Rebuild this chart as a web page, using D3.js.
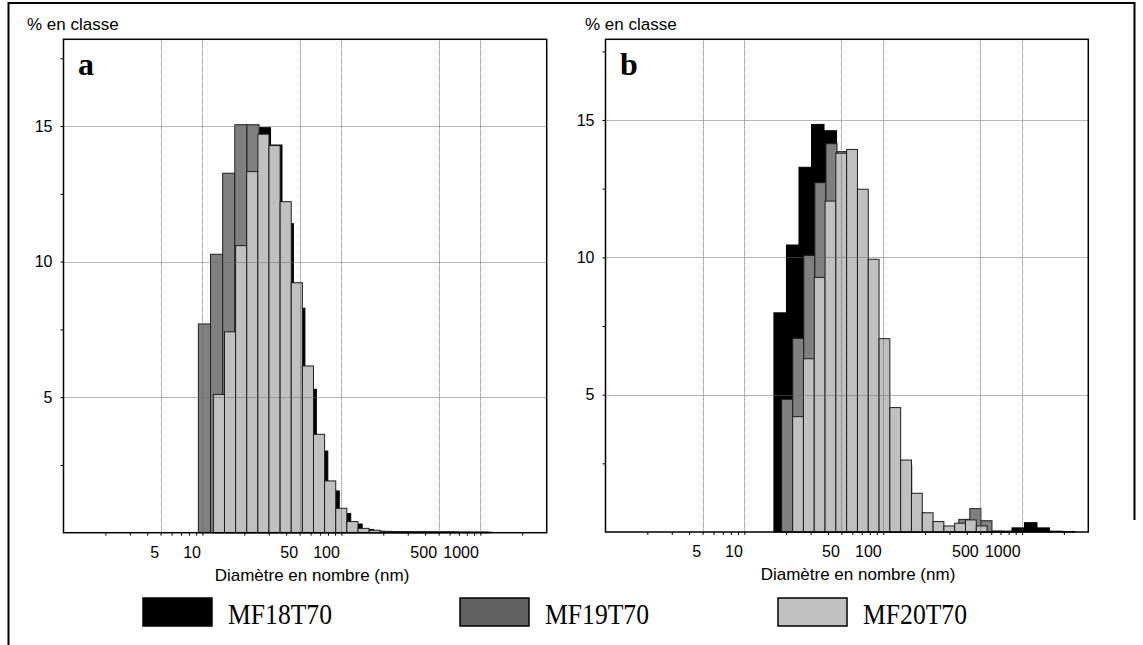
<!DOCTYPE html>
<html>
<head>
<meta charset="utf-8">
<script src="https://cdn.jsdelivr.net/npm/d3@7"></script>
<style>
  html, body { margin: 0; padding: 0; background: #fff; }
  svg { display: block; }
</style>
</head>
<body>
<svg id="chart" width="1143" height="645"></svg>
<script>
// ---------------- DATA ----------------
const seriesNames = ["MF18T70", "MF19T70", "MF20T70"];
const xTickValues = [5, 10, 50, 100, 500, 1000];
const yTickValues = [5, 10, 15];
const panelLetters = ["a", "b"];
const yAxisTitle = "% en classe";
const xAxisTitle = "Diamètre en nombre (nm)";

// Panel a : size classes (lower edge of first class in nm, class ratio) and % per class
const aMF18Start = 11.96, aMF18Ratio = 1.2090;
const aMF18 = [4.0, 6.5, 10.0, 13.0, 14.94, 14.3, 11.4, 8.28, 5.29, 3.01, 1.54, 0.71, 0.32, 0.12,
               0.05, 0.04, 0.04, 0.03, 0.03, 0.03, 0.03, 0.02, 0.02, 0.02];
const aMF19Start = 9.344, aMF19Ratio = 1.2229;
const aMF19 = [7.70, 10.27, 13.26, 15.05, 15.05, 13.5, 11.5, 8.5, 5.5, 3.2, 1.6, 0.75, 0.3, 0.12,
               0.05, 0.03, 0.02, 0.02, 0.02, 0.01];
const aMF20Start = 11.98, aMF20Ratio = 1.2024;
const aMF20 = [5.10, 7.41, 10.59, 13.32, 14.70, 14.28, 12.21, 9.22, 6.15, 3.63, 1.91, 0.90, 0.41,
               0.16, 0.09, 0.05, 0.04, 0.04, 0.03, 0.03, 0.03, 0.03, 0.02, 0.02, 0.02];

// Panel b
const bMF18Start = 16.33, bMF18Ratio = 1.2309;
const bMF18 = [7.98, 10.45, 13.28, 14.84, 14.61, 13.5, 11.5, 9.0, 6.5, 4.2, 2.4, 0.7, 0.3, 0.15,
               0.08, 0.05, 0.04, 0.03, 0.03, 0.15, 0.34, 0.15, 0.03, 0.02];
const bMF19Start = 18.56, bMF19Ratio = 1.2015;
const bMF19 = [4.83, 7.05, 10.07, 12.72, 14.14, 13.85, 12.0, 9.5, 6.8, 4.4, 2.5, 1.3, 0.65, 0.35,
               0.2, 0.2, 0.46, 0.85, 0.41, 0.03, 0.02];
const bMF20Start = 22.27, bMF20Ratio = 1.1962;
const bMF20 = [4.20, 6.31, 9.27, 12.05, 13.79, 13.93, 12.48, 9.93, 7.04, 4.53, 2.62, 1.41, 0.70,
               0.38, 0.22, 0.32, 0.44, 0.22];

const xDomain = [1, 3000];
const aYMax = 18.2, bYMax = 17.94;

// ---------------- STYLE / LAYOUT ----------------
const fills = ["#000000", "#808080", "#c0c0c0"];
const legendFills = ["#000000", "#606060", "#c0c0c0"];
const sans = "'Liberation Sans', Arial, sans-serif";
const serif = "'Liberation Serif', 'Times New Roman', serif";

const svg = d3.select("#chart");

// outer frame
svg.append("path")
  .attr("d", "M8.5,645 L8.5,3 L1134.5,3 L1134.5,520")
  .attr("fill", "none").attr("stroke", "#000").attr("stroke-width", 2);

const panels = [
  { left: 63.5, right: 546.7, top: 39.3, bottom: 532.7, ymax: aYMax, letter: panelLetters[0],
    titleX: 312, yTitleX: 27,
    series: [
      { start: aMF18Start, ratio: aMF18Ratio, values: aMF18 },
      { start: aMF19Start, ratio: aMF19Ratio, values: aMF19 },
      { start: aMF20Start, ratio: aMF20Ratio, values: aMF20 } ] },
  { left: 605.5, right: 1088.3, top: 39.3, bottom: 532, ymax: bYMax, letter: panelLetters[1],
    titleX: 858, yTitleX: 585,
    series: [
      { start: bMF18Start, ratio: bMF18Ratio, values: bMF18 },
      { start: bMF19Start, ratio: bMF19Ratio, values: bMF19 },
      { start: bMF20Start, ratio: bMF20Ratio, values: bMF20 } ] }
];

// minor ticks: every integer multiple in each decade
const minorTicks = [];
for (let dec = 1; dec <= 1000; dec *= 10) {
  for (let m = 1; m <= 9; m++) {
    const v = dec * m;
    if (v > 1 && v < 3000) minorTicks.push(v);
  }
}

panels.forEach(p => {
  const x = d3.scaleLog().domain(xDomain).range([p.left, p.right]);
  const y = d3.scaleLinear().domain([0, p.ymax]).range([p.bottom, p.top]);
  const g = svg.append("g");

  // bars: back-to-front MF18, MF19, MF20
  p.series.forEach((s, si) => {
    const bins = s.values.map((v, i) => ({
      lo: s.start * Math.pow(s.ratio, i),
      hi: s.start * Math.pow(s.ratio, i + 1),
      v: v
    }));
    g.append("g").selectAll("rect").data(bins).join("rect")
      .attr("x", d => x(d.lo))
      .attr("width", d => x(d.hi) - x(d.lo))
      .attr("y", d => y(d.v))
      .attr("height", d => y(0) - y(d.v))
      .attr("fill", fills[si])
      .attr("stroke", si === 0 ? "#000" : "#1e1e1e")
      .attr("stroke-width", 1);
  });

  // grid lines (drawn over the bars)
  g.append("g").selectAll("line.vg").data(xTickValues).join("line")
    .attr("x1", d => Math.round(x(d)) + 0.5).attr("x2", d => Math.round(x(d)) + 0.5)
    .attr("y1", p.top).attr("y2", p.bottom)
    .attr("stroke", "#6a6a6a").attr("stroke-width", 1).attr("stroke-dasharray", "1,1");
  g.append("g").selectAll("line.hg").data(yTickValues).join("line")
    .attr("y1", d => Math.round(y(d)) + 0.5).attr("y2", d => Math.round(y(d)) + 0.5)
    .attr("x1", p.left).attr("x2", p.right)
    .attr("stroke", "#6a6a6a").attr("stroke-width", 1).attr("stroke-dasharray", "1,1");

  // x axis (bottom) using d3 axis for minor ticks
  const xAxis = d3.axisBottom(x).tickValues(minorTicks).tickSize(3).tickFormat("");
  const xa = g.append("g").attr("transform", `translate(0,${p.bottom})`).call(xAxis);
  xa.select(".domain").remove();
  xa.selectAll("line").attr("stroke", "#000");

  // x tick labels (right-aligned just left of tick)
  g.append("g").selectAll("text").data(xTickValues).join("text")
    .attr("x", d => x(d) - 1.5)
    .attr("y", p.bottom + 25)
    .attr("text-anchor", "end")
    .attr("font-family", sans).attr("font-size", 16)
    .text(d => d);

  // y axis ticks every 2.5
  const yAxis = d3.axisLeft(y).tickValues(d3.range(2.5, p.ymax, 2.5)).tickSize(3).tickFormat("");
  const ya = g.append("g").attr("transform", `translate(${p.left},0)`).call(yAxis);
  ya.select(".domain").remove();
  ya.selectAll("line").attr("stroke", "#000");

  g.append("g").selectAll("text").data(yTickValues).join("text")
    .attr("x", p.left - 11)
    .attr("y", d => y(d) + 5.5)
    .attr("text-anchor", "end")
    .attr("font-family", sans).attr("font-size", 16)
    .text(d => d);

  // plot frame
  g.append("rect")
    .attr("x", p.left).attr("y", p.top)
    .attr("width", p.right - p.left).attr("height", p.bottom - p.top)
    .attr("fill", "none").attr("stroke", "#000").attr("stroke-width", 1.5);

  // titles
  g.append("text").attr("x", p.yTitleX).attr("y", 30)
    .attr("font-family", sans).attr("font-size", 17).text(yAxisTitle);
  g.append("text").attr("x", p.titleX).attr("y", p.bottom + 48)
    .attr("text-anchor", "middle")
    .attr("font-family", sans).attr("font-size", 17).text(xAxisTitle);
  g.append("text").attr("x", p.left + 14.5).attr("y", 75)
    .attr("font-family", serif).attr("font-weight", "bold").attr("font-size", 32)
    .text(p.letter);
});

// legend
const legendX = [143, 460, 778];
const lg = svg.append("g");
seriesNames.forEach((name, i) => {
  lg.append("rect")
    .attr("x", legendX[i]).attr("y", 598).attr("width", 69).attr("height", 28)
    .attr("fill", legendFills[i]).attr("stroke", "#000").attr("stroke-width", 1.5);
  lg.append("text")
    .attr("x", legendX[i] + 85).attr("y", 624)
    .attr("font-family", serif).attr("font-size", 30)
    .attr("textLength", 104).attr("lengthAdjust", "spacingAndGlyphs")
    .text(name);
});
</script>
</body>
</html>
